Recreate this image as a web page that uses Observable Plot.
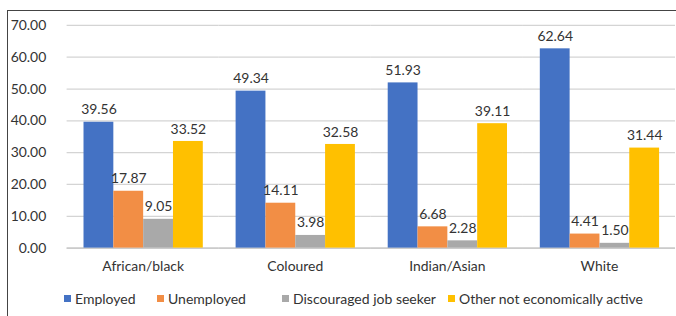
<!DOCTYPE html>
<html>
<head>
<meta charset="utf-8">
<script src="https://cdn.jsdelivr.net/npm/d3@7"></script>
<script src="https://cdn.jsdelivr.net/npm/@observablehq/plot@0.6"></script>
<style>
  html, body { margin: 0; padding: 0; background: #fff; overflow: hidden; width: 676px; height: 316px; }
  body { position: relative; font-family: Lato, "Open Sans", sans-serif; color: #333; }
  #frame { position: absolute; left: 7px; top: 10px; width: 720px; height: 340px; border: 1px solid #444; box-sizing: border-box; }
  #title { position: absolute; top: -20px; left: 0; width: 676px; height: 18px; line-height: 18px; font: bold 15px "Liberation Sans", sans-serif; white-space: nowrap; }
  #title span { position: absolute; top: 0; }
  #chart { position: absolute; left: 0; top: 11px; }
  #legend { position: absolute; left: 0; top: 290px; width: 676px; height: 20px; font-size: 14px; color: #333; }
  .item { position: absolute; top: 0; display: flex; align-items: center; white-space: nowrap; }
  .sw { width: 7px; height: 7px; margin-right: 4px; }
</style>
</head>
<body>
<div id="title"><span style="left:212px;color:#d04a1e">Figure 3.2:</span><span style="left:313px;color:#222">Employment status</span></div>
<div id="frame"></div>
<div id="chart"></div>
<div id="legend"></div>
<script>
const categories = ["African/black", "Coloured", "Indian/Asian", "White"];
const series = ["Employed", "Unemployed", "Discouraged job seeker", "Other not economically active"];
const employed = [39.56, 49.34, 51.93, 62.64];
const unemployed = [17.87, 14.11, 6.68, 4.41];
const discouraged = [9.05, 3.98, 2.28, 1.50];
const otherInactive = [33.52, 32.58, 39.11, 31.44];
const colors = ["#4472C4", "#F28E45", "#A9A9A9", "#FFC000"];
const yTicks = [0, 10, 20, 30, 40, 50, 60, 70];

const valuesBySeries = [employed, unemployed, discouraged, otherInactive];
const data = [];
categories.forEach((c, i) => {
  series.forEach((s, j) => {
    data.push({category: c, series: s, value: valuesBySeries[j][i]});
  });
});

const fmt = d3.format(".2f");

const chart = Plot.plot({
  width: 680,
  height: 268,
  marginLeft: 67,
  marginRight: 1,
  marginTop: 14,
  marginBottom: 30,
  style: {fontFamily: "Lato, 'Open Sans', sans-serif", fontSize: "14px", color: "#333", background: "transparent", overflow: "visible"},
  fx: {domain: categories, padding: 0, label: null},
  x: {domain: series, paddingInner: 0, paddingOuter: 0.53, axis: null},
  y: {domain: [0, 70], label: null},
  color: {domain: series, range: colors},
  marks: [
    Plot.gridY(yTicks, {stroke: "#d4d4d4", strokeOpacity: 1, strokeWidth: 1.3}),
    Plot.ruleY([0], {stroke: "#c4c4c4", strokeWidth: 1.3}),
    Plot.axisY(yTicks, {tickSize: 0, tickPadding: 21, tickFormat: fmt, fontSize: 14, fill: "#333", label: null}),
    Plot.axisFx({anchor: "bottom", tickSize: 0, tickPadding: 13, fontSize: 14, fill: "#333", label: null}),
    Plot.barY(data, {fx: "category", x: "series", y: "value", fill: "series"}),
    Plot.text(data, {fx: "category", x: "series", y: "value", text: d => fmt(d.value), lineAnchor: "bottom", dy: -8, fontSize: 14, fill: "#333"})
  ]
});
document.getElementById("chart").appendChild(chart);

const legend = document.getElementById("legend");
const legendX = [64, 157, 282, 448];
const colorScale = chart.scale("color");
series.forEach((s, i) => {
  const item = document.createElement("div");
  item.className = "item";
  item.style.left = legendX[i] + "px";
  const sw = document.createElement("span");
  sw.className = "sw";
  sw.style.background = colorScale.range[colorScale.domain.indexOf(s)];
  const t = document.createElement("span");
  t.textContent = s;
  item.appendChild(sw);
  item.appendChild(t);
  legend.appendChild(item);
});
</script>
</body>
</html>
